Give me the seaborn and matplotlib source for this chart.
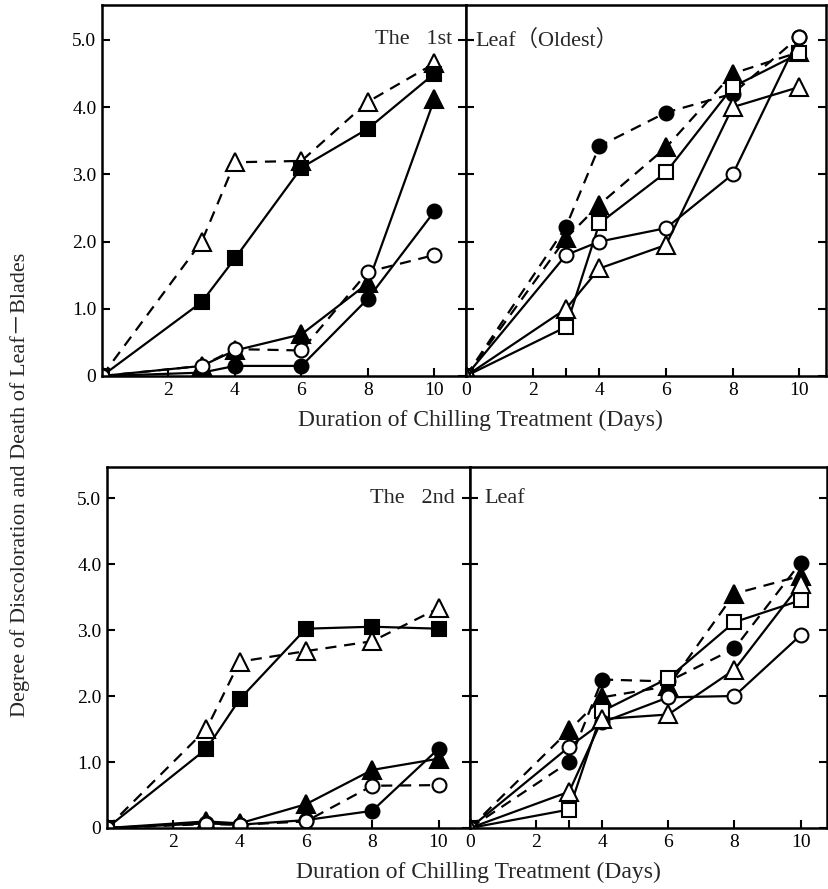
import seaborn as sns
import matplotlib.pyplot as plt
import pandas as pd

# chilling days sampled
days = [0, 3, 4, 6, 8, 10]

# 1st (oldest) leaf, left panel
l1_open_tri = [0, 2.0, 3.18, 3.2, 4.08, 4.65]
l1_full_sq = [0, 1.1, 1.75, 3.1, 3.68, 4.5]
l1_full_tri = [0, 0.15, 0.38, 0.62, 1.38, 4.12]
l1_full_circ = [0, 0.05, 0.15, 0.15, 1.15, 2.45]
l1_open_circ = [0, 0.15, 0.4, 0.38, 1.55, 1.8]
# 1st leaf, right panel
r1_full_circ = [0, 2.22, 3.42, 3.92, 4.2, 5.05]
r1_full_tri = [0, 2.05, 2.55, 3.4, 4.5, 4.82]
r1_open_sq = [0, 0.73, 2.27, 3.03, 4.3, 4.8]
r1_open_circ = [0, 1.8, 2.0, 2.2, 3.0, 5.05]
r1_open_tri = [0, 1.0, 1.6, 1.95, 4.0, 4.3]

# 2nd leaf, left panel
l2_open_tri = [0, 1.5, 2.52, 2.68, 2.83, 3.33]
l2_full_sq = [0, 1.2, 1.95, 3.02, 3.05, 3.02]
l2_full_tri = [0, 0.1, 0.07, 0.36, 0.88, 1.05]
l2_full_circ = [0, 0.07, 0.05, 0.12, 0.26, 1.2]
l2_open_circ = [0, 0.06, 0.05, 0.1, 0.64, 0.65]
# 2nd leaf, right panel
r2_full_circ = [0, 1.0, 2.25, 2.22, 2.72, 4.02]
r2_full_tri = [0, 1.48, 1.98, 2.15, 3.55, 3.82]
r2_open_sq = [0, 0.28, 1.77, 2.27, 3.12, 3.45]
r2_open_circ = [0, 1.23, 1.6, 1.98, 2.0, 2.92]
r2_open_tri = [0, 0.55, 1.65, 1.72, 2.4, 3.7]

ytick_vals = [0, 1, 2, 3, 4, 5]
ytick_labels = ['0', '1.0', '2.0', '3.0', '4.0', '5.0']

sns.set_style('ticks')
plt.rcParams['font.family'] = ['Liberation Serif', 'Noto Sans CJK JP', 'DejaVu Serif']

fig = plt.figure(figsize=(8.29, 8.89), dpi=100)
W, H = 829, 889


def px_axes(x0, x1, y0, y1):
    return fig.add_axes([x0 / W, 1 - y1 / H, (x1 - x0) / W, (y1 - y0) / H])


ax_tl = px_axes(102, 466, 5, 376)
ax_tr = px_axes(466, 826, 5, 376)
ax_bl = px_axes(107, 470, 467, 828)
ax_br = px_axes(470, 827, 467, 828)

# marker, filled, dashed
left_styles = [('^', False, True), ('s', True, False), ('^', True, False),
               ('o', True, False), ('o', False, True)]
right_styles = [('o', True, True), ('^', True, True), ('s', False, False),
                ('o', False, False), ('^', False, False)]

panels = [
    (ax_tl, [l1_open_tri, l1_full_sq, l1_full_tri, l1_full_circ, l1_open_circ], left_styles),
    (ax_tr, [r1_full_circ, r1_full_tri, r1_open_sq, r1_open_circ, r1_open_tri], right_styles),
    (ax_bl, [l2_open_tri, l2_full_sq, l2_full_tri, l2_full_circ, l2_open_circ], left_styles),
    (ax_br, [r2_full_circ, r2_full_tri, r2_open_sq, r2_open_circ, r2_open_tri], right_styles),
]

marker_size = {'^': 12.5, 'o': 10, 's': 9.5}

for ax, series, styles in panels:
    for vals, (mk, filled, dashed) in zip(series, styles):
        df = pd.DataFrame({'day': days, 'degree': vals})
        sns.lineplot(data=df, x='day', y='degree', ax=ax, color='black',
                     linewidth=1.6, linestyle=(0, (5, 3.5)) if dashed else '-',
                     marker=mk, markersize=marker_size[mk], markeredgewidth=1.5,
                     markeredgecolor='black',
                     markerfacecolor='black' if filled else 'white')

for ax in [ax_tl, ax_tr, ax_bl, ax_br]:
    ax.set_xlabel('')
    ax.set_ylabel('')
    for sp in ax.spines.values():
        sp.set_linewidth(1.8)
        sp.set_color('black')
    ax.set_yticks(ytick_vals)
    ax.set_xticks([3], minor=True)
    ax.tick_params(which='both', direction='in', length=6, width=1.5,
                   left=True, right=True, bottom=True, top=False,
                   labelsize=14, pad=4, colors='black')

ax_tl.set_ylim(0, 5.52)
ax_tr.set_ylim(0, 5.52)
ax_bl.set_ylim(0, 5.47)
ax_br.set_ylim(0, 5.47)

for ax in [ax_tl, ax_bl]:
    ax.set_xlim(0, 10.95)
    ax.set_xticks([2, 4, 6, 8, 10])
    ax.set_yticklabels(ytick_labels)
for ax in [ax_tr, ax_br]:
    ax.set_xlim(0, 10.8)
    ax.set_xticks([0, 2, 4, 6, 8, 10])
    ax.tick_params(labelleft=False)

# panel captions
ax_tl.text(0.962, 5.0, 'The   1st', transform=ax_tl.get_yaxis_transform(),
           ha='right', va='center', fontsize=16)
ax_tr.text(0.025, 5.0, 'Leaf（Oldest）', transform=ax_tr.get_yaxis_transform(),
           ha='left', va='center', fontsize=16)
ax_bl.text(0.959, 5.0, 'The   2nd', transform=ax_bl.get_yaxis_transform(),
           ha='right', va='center', fontsize=16)
ax_br.text(0.039, 5.0, 'Leaf', transform=ax_br.get_yaxis_transform(),
           ha='left', va='center', fontsize=16)

fig.text(0.579, 1 - 420 / H, 'Duration of Chilling Treatment (Days)',
         ha='center', va='center', fontsize=17)
fig.text(0.577, 1 - 872 / H, 'Duration of Chilling Treatment (Days)',
         ha='center', va='center', fontsize=17)
fig.text(20 / W, 1 - 485 / H, 'Degree of Discoloration and Death of Leaf－Blades',
         rotation=90, ha='center', va='center', fontsize=16)

plt.savefig('out.png', dpi=100)
